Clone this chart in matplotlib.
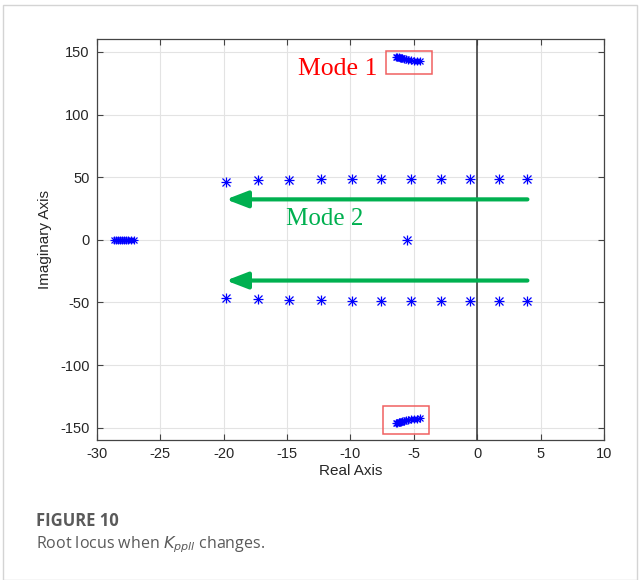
import matplotlib
matplotlib.use("Agg")
import matplotlib.pyplot as plt
from matplotlib.patches import Rectangle
import numpy as np

# ---- data: closed-loop poles as K_ppll is swept ----
mode2_re = [-19.8, -17.25, -14.8, -12.3, -9.9, -7.55, -5.2, -2.85, -0.55, 1.75, 3.95]
mode2_im = [46.5, 47.6, 48.0, 48.3, 48.5, 48.6, 48.7, 48.7, 48.8, 48.8, 48.8]

mode1_re = [-6.4, -6.3, -6.2, -6.1, -6.0, -5.9, -5.78, -5.64, -5.47, -5.25, -5.02, -4.78, -4.55]
mode1_im = [146.3, 146.0, 145.7, 145.4, 145.1, 144.8, 144.5, 144.1, 143.7, 143.3, 143.0, 142.7, 142.5]

real_re = [-28.6, -28.45, -28.3, -28.15, -28.0, -27.85, -27.7, -27.5, -27.3, -27.05]
real_im = [0, 0, 0, 0, 0, 0, 0, 0, 0, 0]

fixed_re = [-5.5]
fixed_im = [0.0]

x_ticks = [-30, -25, -20, -15, -10, -5, 0, 5, 10]
y_ticks = [-150, -100, -50, 0, 50, 100, 150]

plt.rcParams['font.family'] = ['Liberation Sans', 'DejaVu Sans']

fig = plt.figure(figsize=(6.4, 5.8), dpi=100)
ax = fig.add_axes([0.151, 0.241, 0.793, 0.691])

blue = (0, 0, 1)


def stars(xs, ys, size=1.0):
    ax.plot(xs, ys, linestyle='none', marker='+', ms=7.5 * size, mew=0.9, color=blue, zorder=4)
    ax.plot(xs, ys, linestyle='none', marker='x', ms=5.5 * size, mew=0.9, color=blue, zorder=4)


stars(mode2_re, mode2_im)
stars(mode2_re, [-v for v in mode2_im])
stars(mode1_re, mode1_im, 0.85)
stars(mode1_re, [-v for v in mode1_im], 0.85)
stars(real_re, real_im, 0.85)
stars(fixed_re, fixed_im)

# imaginary axis
ax.axvline(0, color='#404040', lw=1.2, zorder=2)

ax.set_xlim(-30, 10)
ax.set_ylim(-160, 160)
ax.set_xticks(x_ticks)
ax.set_yticks(y_ticks)
ax.set_xticklabels([str(v) for v in x_ticks])
ax.set_yticklabels([str(v) for v in y_ticks])
ax.grid(True, color='#e3e3e3', lw=0.8, zorder=0)
ax.set_axisbelow(True)
ax.tick_params(direction='in', top=True, right=True, length=4, width=0.8,
               color='#444444', labelsize=10.5, labelcolor='#262626', pad=5)
for s in ax.spines.values():
    s.set_color('#444444')
    s.set_linewidth(0.9)
ax.set_xlabel('Real Axis', fontsize=11, color='#262626', labelpad=2)
ax.set_ylabel('Imaginary Axis', fontsize=11, color='#262626', labelpad=6)

# Mode 1 boxes and label
red = (1.0, 0.0, 0.0)
box_c = '#f06060'
ax.add_patch(Rectangle((-7.2, 132.7), 3.63, 18.3, fill=False, ec=box_c, lw=1.1, zorder=5))
ax.add_patch(Rectangle((-7.44, -155.0), 3.65, 22.2, fill=False, ec=box_c, lw=1.1, zorder=5))
ax.text(-14.1, 136.5, 'Mode 1', color=red, fontsize=18.5, family='Liberation Serif',
        ha='left', va='center', zorder=6)

# Mode 2 arrows and label
green = '#00b050'
for yv in (32.3, -32.5):
    ax.annotate('', xy=(-19.8, yv), xytext=(3.95, yv),
                arrowprops=dict(arrowstyle='-|>,head_length=1.3,head_width=0.5',
                                color=green, lw=3.0, shrinkA=0, shrinkB=0),
                zorder=5)
ax.text(-15.1, 17.0, 'Mode 2', color=green, fontsize=18, family='Liberation Serif',
        ha='left', va='center', zorder=6)

# caption
fig.text(36 / 640, 1 - 521 / 580, 'FIGURE 10', fontsize=12, fontweight='bold',
         color='#5a5a5a', family='Open Sans', va='center', ha='left')
fig.text(36 / 640, 1 - 545 / 580, r'Root locus when $K_{ppll}$ changes.', fontsize=11.5,
         color='#5a5a5a', family='Open Sans', va='center', ha='left')

# outer frame
fig.add_artist(Rectangle((3 / 640, 0), 634 / 640, 1 - 5 / 580, transform=fig.transFigure,
                         fill=False, ec='#d4d4d4', lw=1.0))

fig.savefig('out.png', dpi=100, facecolor='white')
